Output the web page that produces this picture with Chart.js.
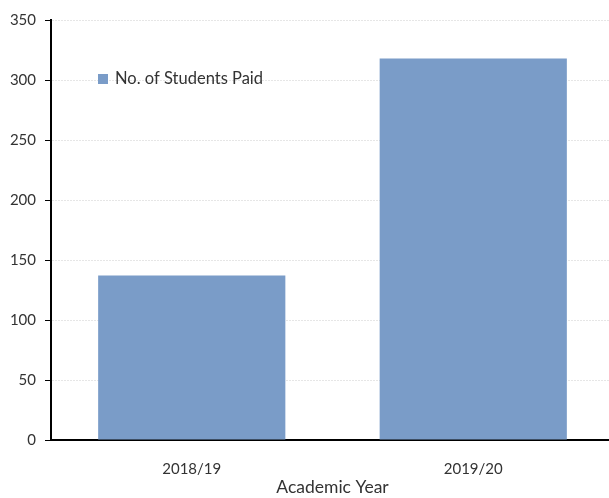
<!DOCTYPE html>
<html>
<head>
<meta charset="utf-8">
<script src="https://cdn.jsdelivr.net/npm/chart.js@4/dist/chart.umd.min.js"></script>
<style>
  html, body { margin: 0; padding: 0; background: #fff; overflow: hidden; }
  #wrap { width: 614px; height: 498px; }
</style>
</head>
<body>
<div id="wrap"><canvas id="grafico"></canvas></div>
<script>
// dados do gráfico
const anos = ["2018/19", "2019/20"];
const alunosPagos = [137, 318];
const serieNome = "No. of Students Paid";
const eixoXTitulo = "Academic Year";

const corBarra = "rgb(122,156,200)";
const corTexto = "#333333";
const fonte = "Lato, 'Open Sans', sans-serif";

// legenda desenhada dentro da área do gráfico
const legendaInterna = {
    id: "legendaInterna",
    afterDraw(chart) {
        const ctx = chart.ctx;
        const area = chart.chartArea;
        const ds = chart.data.datasets[0];
        const x = area.left + 47;
        const y = area.top + 59;
        ctx.save();
        ctx.fillStyle = ds.backgroundColor;
        ctx.fillRect(x, y - 5, 10, 10);
        ctx.fillStyle = corTexto;
        ctx.font = "16.5px " + fonte;
        ctx.textBaseline = "middle";
        ctx.fillText(ds.label, x + 17, y);
        ctx.restore();
    }
};

new Chart(document.getElementById("grafico"), {
    type: "bar",
    data: {
        labels: anos,
        datasets: [{
            label: serieNome,
            data: alunosPagos,
            backgroundColor: corBarra,
            categoryPercentage: 0.665,
            barPercentage: 1
        }]
    },
    options: {
        responsive: true,
        maintainAspectRatio: false,
        animation: false,
        layout: { padding: { top: 20, right: 0, left: 0, bottom: 0 } },
        plugins: {
            legend: { display: false },
            tooltip: { enabled: false }
        },
        scales: {
            y: {
                min: 0,
                max: 350,
                ticks: {
                    stepSize: 50,
                    color: corTexto,
                    font: { size: 15, family: fonte },
                    padding: 9
                },
                grid: {
                    color: "#e6e6e6",
                    tickColor: "#000",
                    tickLength: 6,
                    tickWidth: 1
                },
                border: { color: "#000", width: 2, dash: [2, 1] },
                afterFit(scale) { scale.width = 51; }
            },
            x: {
                ticks: {
                    color: corTexto,
                    font: { size: 15, family: fonte },
                    padding: 12
                },
                grid: { display: false },
                border: { color: "#000", width: 2 },
                title: {
                    display: true,
                    text: eixoXTitulo,
                    color: corTexto,
                    font: { size: 17.5, family: fonte },
                    padding: { top: 4, bottom: 0 }
                },
                afterFit(scale) { scale.height = 58; }
            }
        }
    },
    plugins: [legendaInterna]
});
</script>
</body>
</html>
